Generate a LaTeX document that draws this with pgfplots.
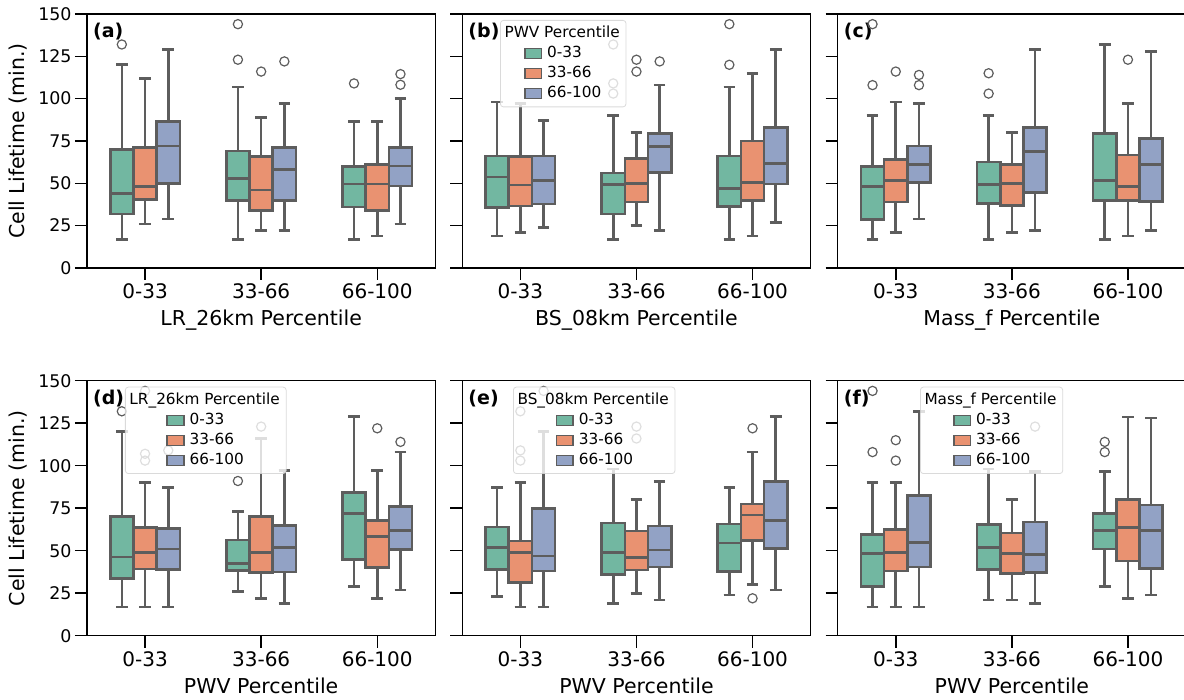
\documentclass[border=0pt]{standalone}
\usepackage{fontspec}
\setmainfont{DejaVu Sans}
\usepackage{pgfplots}
\pgfplotsset{compat=1.18}
\usepgfplotslibrary{statistics}

\definecolor{cg}{RGB}{114,183,161}
\definecolor{co}{RGB}{233,146,113}
\definecolor{cb}{RGB}{146,162,197}
\definecolor{lc}{RGB}{93,93,93}

\tikzset{plab/.style={anchor=west, inner sep=0pt, font=\bfseries\fontsize{19}{22}\selectfont}}

\pgfplotsset{
  panel/.style={
    scale only axis, width=348.3pt, height=254pt,
    xmin=-0.5, xmax=2.5, ymin=0, ymax=150,
    xtick={0,1,2}, xticklabels={0-33,33-66,66-100},
    ytick={0,25,50,75,100,125,150},
    xtick pos=left, ytick pos=left,
    tick align=outside, major tick length=12pt,
    every tick/.style={black, line width=1.5pt},
    axis line style={line width=1.5pt},
    /pgf/number format/assume math mode=true,
    xticklabel style={font=\fontsize{20}{24}\selectfont},
    yticklabel style={font=\fontsize{17.4}{20}\selectfont},
    label style={font=\fontsize{20.5}{24}\selectfont},
    xlabel style={at={(axis description cs:0.5,-0.227)}, anchor=base},
    ylabel style={at={(axis description cs:-0.180,0.5)}, anchor=base},
    boxplot/draw direction=y,
    boxplot/box extend=0.2,
    boxplot/whisker extend=0.1,
    legend cell align=left,
    legend style={anchor=north west, font=\fontsize{15.3}{18}\selectfont,
      fill=white, fill opacity=0.8, draw=black!18, draw opacity=0.8,
      text opacity=1, rounded corners=3pt, line width=0.8pt,
      inner xsep=6.3pt, inner ysep=6pt, row sep=5.5pt, column sep=5pt,
      nodes={inner sep=0pt, text height=11pt, text depth=3.5pt}},
  },
  nolab/.style={yticklabels={\empty,\empty,\empty,\empty,\empty,\empty,\empty}},
  bxs/.style={draw=lc, fill=#1, line width=2.6pt, mark=o, mark size=4.6pt,
    mark options={draw=lc, line width=1.2pt, fill=none}, forget plot},
  % legend swatch: colour, indent that centres the entries under the title
  legsq/.style 2 args={legend image code/.code={
    \path[draw=none, fill=none] (0pt,-5pt) rectangle (1pt,5pt);
    \draw[sharp corners, fill=#1, draw=lc, line width=1.6pt, fill opacity=1, draw opacity=1]
      (#2pt,-5pt) rectangle ({#2pt+16.7pt},5pt);}},
}

% colour, position, lower whisker, Q1, median, Q3, upper whisker, outliers
\newcommand\bx[8]{\addplot[bxs=#1, boxplot prepared={draw position=#2,
  lower whisker=#3, lower quartile=#4, median=#5, upper quartile=#6,
  upper whisker=#7}] coordinates {#8};}

% legend with a title: title, indent of the entries
\newcommand\leg[2]{%
  \addlegendimage{empty legend}\addlegendentry{\hspace*{-\dimexpr #2pt+24.7pt\relax}#1}
  \addlegendimage{legsq={cg}{#2}}\addlegendentry{0-33}
  \addlegendimage{legsq={co}{#2}}\addlegendentry{33-66}
  \addlegendimage{legsq={cb}{#2}}\addlegendentry{66-100}}

\begin{document}
\begin{tikzpicture}
% (a)
\begin{axis}[panel, at={(87pt,-14pt)}, anchor=north west,
  xlabel={LR\_26km Percentile}, ylabel={Cell Lifetime (min.)}]
\bx{cg}{-0.2}{17}{32}{44}{70}{120}{(0,132)}
\bx{co}{0}{26}{40.6}{48}{71}{112}{}
\bx{cb}{0.2}{29}{50}{72}{86.5}{129}{}
\bx{cg}{0.8}{17}{40}{53}{69}{107}{(1,144) (1,123)}
\bx{co}{1}{22}{34}{46}{66}{89}{(1,116)}
\bx{cb}{1.2}{22}{40}{58.3}{71}{97}{(1,122)}
\bx{cg}{1.8}{17}{36}{49.5}{60}{86.5}{(2,109)}
\bx{co}{2}{19}{34}{49.5}{61}{86.5}{}
\bx{cb}{2.2}{26}{48.5}{60.3}{71}{100}{(2,114.5) (2,108.2)}
\node[plab] at (rel axis cs:0.0172,0.929) {(a)};
\end{axis}
% (b)
\begin{axis}[panel, nolab, at={(462.3pt,-14pt)}, anchor=north west,
  xlabel={BS\_08km Percentile},
  legend style={at={(axis description cs:0.1083,0.9764)}}]
\bx{cg}{-0.2}{19}{35.7}{53.8}{66.2}{98}{}
\bx{co}{0}{21}{36.5}{49}{65.8}{97}{}
\bx{cb}{0.2}{24}{37.7}{51.8}{66.2}{87}{}
\bx{cg}{0.8}{17}{32}{49.3}{56}{90}{(1,132) (1,109) (1,103)}
\bx{co}{1}{25}{39}{50}{64.5}{80}{(1,123) (1,116)}
\bx{cb}{1.2}{22}{56.4}{71.8}{79.6}{108}{(1,122)}
\bx{cg}{1.8}{17}{36.3}{47}{66.2}{107}{(2,144) (2,120)}
\bx{co}{2}{19}{39.8}{50.5}{75}{115}{}
\bx{cb}{2.2}{27}{49.5}{61.7}{82.8}{129}{}
\leg{PWV Percentile}{18}
\node[plab] at (rel axis cs:0.0172,0.929) {(b)};
\end{axis}
% (c)
\begin{axis}[panel, nolab, at={(837.7pt,-14pt)}, anchor=north west,
  xlabel={Mass\_f Percentile}]
\bx{cg}{-0.2}{17}{28.8}{48}{60}{90}{(0,108) (0,144)}
\bx{co}{0}{21}{39}{51.8}{64}{98}{(0,116)}
\bx{cb}{0.2}{29}{50.5}{61}{72}{97}{(0,114) (0,108)}
\bx{cg}{0.8}{17}{38.2}{49.3}{62.7}{90}{(1,115) (1,103)}
\bx{co}{1}{21}{37}{50}{61}{80}{}
\bx{cb}{1.2}{22}{44.7}{68.8}{82.8}{129}{}
\bx{cg}{1.8}{17}{39.8}{51.6}{79.4}{132}{}
\bx{co}{2}{19}{40}{48}{66.8}{97}{(2,123)}
\bx{cb}{2.2}{22}{39.2}{61}{76.3}{128}{}
\node[plab] at (rel axis cs:0.0172,0.929) {(c)};
\end{axis}
% (d)
\begin{axis}[panel, height=255pt, at={(87pt,-380.7pt)}, anchor=north west,
  xlabel={PWV Percentile}, ylabel={Cell Lifetime (min.)},
  legend style={at={(axis description cs:0.109,0.9765)}}]
\bx{cg}{-0.2}{17}{33.7}{46.4}{70}{120}{(0,132)}
\bx{co}{0}{17}{39.2}{49}{63.6}{90}{(0,144) (0,107) (0,103)}
\bx{cb}{0.2}{17}{38.8}{51}{63}{87}{(0,109)}
\bx{cg}{0.8}{26}{38.2}{42.5}{56.4}{73}{(1,91)}
\bx{co}{1}{22}{37.2}{49}{70}{116}{(1,123)}
\bx{cb}{1.2}{19}{37.4}{52}{65}{97}{}
\bx{cg}{1.8}{29}{45}{72}{84.4}{129}{}
\bx{co}{2}{22}{40}{58.4}{67.6}{97}{(2,122)}
\bx{cb}{2.2}{27}{50.7}{62}{76}{108}{(2,114)}
\leg{LR\_26km Percentile}{35.4}
\node[plab] at (rel axis cs:0.0172,0.929) {(d)};
\end{axis}
% (e)
\begin{axis}[panel, nolab, height=255pt, at={(462.3pt,-380.7pt)}, anchor=north west,
  xlabel={PWV Percentile},
  legend style={at={(axis description cs:0.1456,0.9765)}}]
\bx{cg}{-0.2}{23}{38.8}{52}{64}{87}{}
\bx{co}{0}{17}{31.3}{49}{55.6}{90}{(0,132) (0,109) (0,103)}
\bx{cb}{0.2}{17}{38}{47}{75}{120}{(0,144)}
\bx{cg}{0.8}{19}{36}{49}{66.4}{98}{}
\bx{co}{1}{25}{38.6}{46}{61.7}{80}{(1,123) (1,116)}
\bx{cb}{1.2}{21}{40.3}{50.3}{64.6}{90.7}{}
\bx{cg}{1.8}{24}{37.8}{54.6}{65.8}{87}{}
\bx{co}{2}{30}{56}{71}{77.5}{108}{(2,122) (2,22)}
\bx{cb}{2.2}{27}{51.3}{67.8}{90.7}{129}{}
\leg{BS\_08km Percentile}{36.7}
\node[plab] at (rel axis cs:0.0172,0.929) {(e)};
\end{axis}
% (f)
\begin{axis}[panel, nolab, height=255pt, at={(837.7pt,-380.7pt)}, anchor=north west,
  xlabel={PWV Percentile},
  legend style={at={(axis description cs:0.2363,0.9765)}}]
\bx{cg}{-0.2}{17}{28.8}{48.4}{59.7}{90}{(0,108) (0,144)}
\bx{co}{0}{17}{38}{49}{62.5}{90}{(0,115) (0,103)}
\bx{cb}{0.2}{17}{40.3}{55}{82.4}{132}{}
\bx{cg}{0.8}{21}{38.8}{52}{65.4}{98}{(1,117)}
\bx{co}{1}{21}{36.6}{48.2}{60.5}{80}{}
\bx{cb}{1.2}{19}{37.2}{47.6}{66.8}{96.7}{(1,123)}
\bx{cg}{1.8}{29}{51}{62}{72}{96.7}{(2,114) (2,108)}
\bx{co}{2}{22}{44}{63.6}{80}{128.6}{}
\bx{cb}{2.2}{24}{39.6}{62}{76.8}{128}{}
\leg{Mass\_f Percentile}{27}
\node[plab] at (rel axis cs:0.0172,0.929) {(f)};
\end{axis}
\pgfresetboundingbox
\path[use as bounding box] (0pt,0pt) rectangle (1184pt,-700pt);
\end{tikzpicture}
\end{document}
